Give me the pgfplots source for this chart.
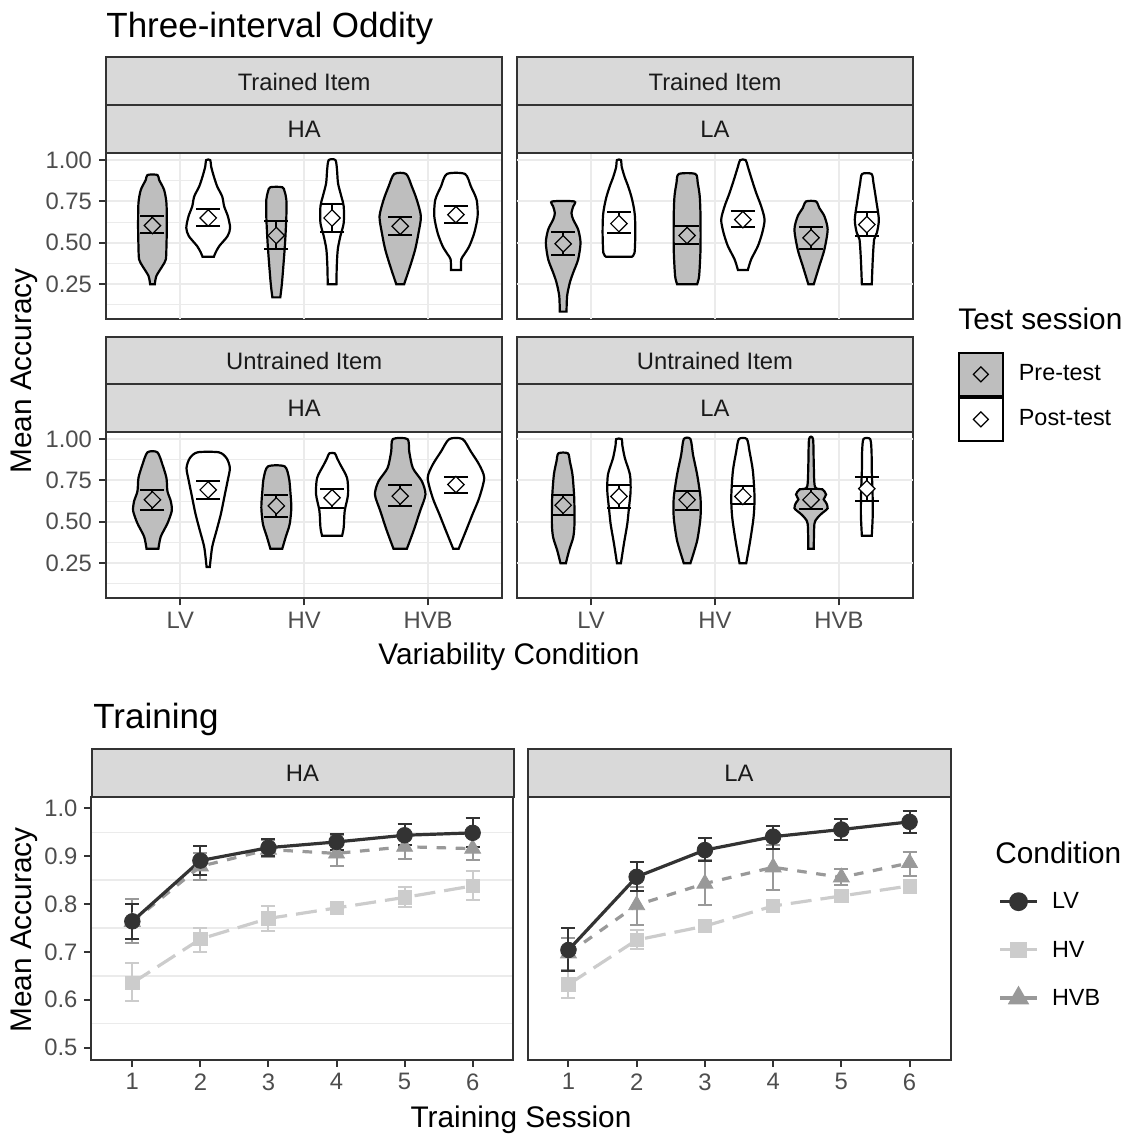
\documentclass[border=0pt]{standalone}
\usepackage{pgfplots}
\pgfplotsset{compat=1.18}
\usepackage{pgfplotstable}
\usepackage{fontspec}
\setmainfont{Liberation Sans}
\definecolor{gridgray}{HTML}{EBEBEB}
\definecolor{border}{HTML}{333333}
\definecolor{stripgray}{HTML}{D9D9D9}
\definecolor{ticklab}{HTML}{4D4D4D}
\definecolor{striptext}{HTML}{1A1A1A}
\definecolor{pregray}{HTML}{BEBEBE}
\definecolor{lvcol}{HTML}{333333}
\definecolor{hvcol}{HTML}{CCCCCC}
\definecolor{hvbcol}{HTML}{999999}
\newcommand\fTitle{\fontsize{17.5}{21}\selectfont}
\newcommand\fAxis{\fontsize{14.9}{17.9}\selectfont}
\newcommand\fTick{\fontsize{11.9}{14.3}\selectfont}
\newcommand\fLeg{\fontsize{11.7}{14}\selectfont}
\newcommand\fLegT{\fontsize{14.9}{17.9}\selectfont}

\newcommand\violin[3]{%
  \gdef\vR{}\gdef\vL{}%
  \foreach \yy/\ww in {#3}{%
    \pgfmathsetmacro\xr{#1+\ww}%
    \pgfmathsetmacro\xl{#1-\ww}%
    \xdef\vR{\vR (\xr,\yy)}%
    \xdef\vL{(\xl,\yy)\vL}%
  }%
  \edef\vtmp{\noexpand\addplot[violin,fill=#2] coordinates {\vR\vL} -- cycle;}%
  \vtmp
}

\pgfplotsset{
  violin/.style={forget plot, smooth, tension=0.45, draw=black, line width=1.1pt},
  vmean/.style={forget plot, only marks, mark=square*, mark size=2.9pt,
    mark options={rotate=45, draw=black, line width=0.6pt, fill=#1},
    error bars/.cd, y dir=both, y explicit,
    error bar style={black, line width=1pt},
    error mark options={rotate=90, black, line width=1pt, mark size=6pt}},
  vax/.style={scale only axis, width=198.2pt, height=83.4pt,
    xmin=0.4, xmax=3.6, ymin=0.0375, ymax=1.0458,
    xtick={1,2,3}, ytick={0.25,0.5,0.75,1}, minor ytick={0.125,0.375,0.625,0.875},
    xmajorgrids, ymajorgrids, yminorgrids,
    major grid style={draw=gridgray, line width=1pt},
    minor grid style={draw=gridgray, line width=0.5pt},
    axis line style={draw=border, line width=1pt},
    tick align=outside, major tick length=3.5pt, minor tick length=0pt,
    tick style={draw=border, line width=1pt},
    xtick pos=left, ytick pos=left,
    tick label style={font=\fTick, text=ticklab},
    xticklabels={}, yticklabels={}},
  notopx/.style={xtick=\empty, extra x ticks={1,2,3}, extra x tick labels={},
    extra x tick style={grid=major, major tick length=0pt}},
  norighty/.style={ytick=\empty, extra y ticks={0.25,0.5,0.75,1}, extra y tick labels={},
    extra y tick style={grid=major, major tick length=0pt}},
  tax/.style={scale only axis, width=211pt, height=131.5pt,
    xmin=0.4, xmax=6.6, ymin=0.475, ymax=1.025,
    xtick={1,2,3,4,5,6}, xticklabels={1,2,3,4,5,6},
    ytick={0.5,0.6,0.7,0.8,0.9,1.0}, minor ytick={0.55,0.65,0.75,0.85,0.95},
    xmajorgrids, yminorgrids,
    major grid style={draw=white, line width=1pt},
    minor grid style={draw=gridgray, line width=0.7pt},
    axis line style={draw=border, line width=1pt},
    tick align=outside, major tick length=3.5pt, minor tick length=0pt,
    tick style={draw=border, line width=1pt},
    xtick pos=left, ytick pos=left,
    tick label style={font=\fTick, text=ticklab}},
  lvline/.style={forget plot, lvcol, line width=1.6pt, solid, mark=none},
  hvline/.style={forget plot, hvcol, line width=1.6pt, dash pattern=on 10.5pt off 4.5pt, mark=none},
  hvbline/.style={forget plot, hvbcol, line width=1.6pt, dash pattern=on 4.8pt off 4.8pt, mark=none},
  tpts/.style 2 args={forget plot, only marks, #1, mark options={solid, draw=none, fill=#1}, #2,
    error bars/.cd, y dir=both, y explicit,
    error bar style={#1, solid, line width=1pt},
    error mark options={rotate=90, #1, solid, line width=1pt, mark size=3.5pt}},
}

\pgfplotstableread{
s m lo hi
1 0.764 0.728 0.800
2 0.891 0.861 0.921
3 0.918 0.900 0.937
4 0.930 0.914 0.946
5 0.944 0.923 0.967
6 0.949 0.920 0.980
}\haLV
\pgfplotstableread{
s m lo hi
1 0.635 0.598 0.676
2 0.727 0.700 0.751
3 0.770 0.744 0.796
4 0.792 0.780 0.800
5 0.814 0.793 0.835
6 0.838 0.808 0.869
}\haHV
\pgfplotstableread{
s m lo hi
1 0.763 0.718 0.810
2 0.879 0.850 0.906
3 0.914 0.899 0.934
4 0.906 0.879 0.944
5 0.920 0.895 0.941
6 0.916 0.893 0.941
}\haHVB
\pgfplotstableread{
s m lo hi
1 0.704 0.660 0.750
2 0.857 0.828 0.888
3 0.913 0.891 0.939
4 0.941 0.916 0.964
5 0.956 0.935 0.977
6 0.972 0.949 0.995
}\laLV
\pgfplotstableread{
s m lo hi
1 0.632 0.603 0.660
2 0.725 0.707 0.745
3 0.754 0.742 0.765
4 0.796 0.786 0.805
5 0.817 0.805 0.829
6 0.838 0.824 0.851
}\laHV
\pgfplotstableread{
s m lo hi
1 0.697 0.662 0.730
2 0.798 0.757 0.836
3 0.843 0.798 0.892
4 0.877 0.829 0.923
5 0.856 0.840 0.874
6 0.886 0.858 0.909
}\laHVB

\begin{document}
\begin{tikzpicture}
\path[use as bounding box] (0pt,0pt) rectangle (567pt,-567.5pt);

% ---------- Trained Item / HA ----------
\begin{axis}[vax, notopx, at={(53pt,-159.65pt)}, anchor=south west,
  yticklabels={0.25,0.50,0.75,1.00}]
\violin{0.775}{pregray}{0.25/0.019, 0.30/0.032, 0.36/0.081, 0.40/0.108, 0.48/0.113, 0.60/0.116, 0.74/0.113, 0.82/0.094, 0.88/0.054, 0.91/0.040}
\violin{1.225}{white}{0.416/0.046, 0.44/0.059, 0.48/0.089, 0.54/0.156, 0.59/0.177, 0.66/0.159, 0.72/0.129, 0.78/0.113, 0.84/0.073, 0.90/0.046, 0.96/0.024, 1.0/0.016}
\violin{1.775}{pregray}{0.17/0.032, 0.26/0.046, 0.46/0.067, 0.56/0.075, 0.66/0.081, 0.76/0.081, 0.81/0.067, 0.836/0.048}
\violin{2.225}{white}{0.25/0.035, 0.36/0.038, 0.46/0.046, 0.54/0.067, 0.62/0.094, 0.72/0.094, 0.78/0.075, 0.86/0.048, 0.94/0.040, 1.0/0.027}
\violin{2.775}{pregray}{0.25/0.032, 0.36/0.081, 0.46/0.121, 0.56/0.148, 0.66/0.167, 0.76/0.134, 0.84/0.094, 0.916/0.048}
\violin{3.225}{white}{0.336/0.040, 0.40/0.043, 0.43/0.067, 0.48/0.108, 0.56/0.148, 0.66/0.175, 0.76/0.167, 0.84/0.121, 0.916/0.073}
\addplot[vmean=pregray] table[x=x, y=m, y error plus expr=\thisrow{hi}-\thisrow{m}, y error minus expr=\thisrow{m}-\thisrow{lo}, row sep=\\] {x m lo hi\\ 0.775 0.604 0.56 0.66\\ 1.775 0.544 0.46 0.63\\ 2.775 0.60 0.55 0.654\\};
\addplot[vmean=white] table[x=x, y=m, y error plus expr=\thisrow{hi}-\thisrow{m}, y error minus expr=\thisrow{m}-\thisrow{lo}, row sep=\\] {x m lo hi\\ 1.225 0.65 0.60 0.704\\ 2.225 0.65 0.564 0.734\\ 3.225 0.67 0.62 0.72\\};
\end{axis}

% ---------- Trained Item / LA ----------
\begin{axis}[vax, notopx, norighty, at={(258.35pt,-159.65pt)}, anchor=south west, width=198.3pt,
  legend style={at={(1.1114,-0.193)}, anchor=north west, draw=none, fill=none, inner sep=0pt,
    row sep=0pt, font=\fLeg, nodes={inner sep=0pt, text=black}},
  legend cell align=left,
  legend image code/.code={\path[draw=none, fill=none] (0pt,0pt) -- (30pt,0pt);
    \draw[#1] (0pt,-10.75pt) rectangle (22pt,10.75pt);
    \draw[black, line width=0.6pt, fill=none] (11pt,3.75pt) -- (14.75pt,0pt) -- (11pt,-3.75pt) -- (7.25pt,0pt) -- cycle;}]
\violin{0.775}{pregray}{0.084/0.027, 0.18/0.032, 0.26/0.054, 0.32/0.081, 0.40/0.121, 0.50/0.140, 0.58/0.121, 0.64/0.081, 0.68/0.067, 0.72/0.081, 0.75/0.089}
\violin{1.225}{white}{0.416/0.105, 0.44/0.126, 0.56/0.132, 0.66/0.129, 0.72/0.118, 0.78/0.100, 0.84/0.075, 0.90/0.045, 0.96/0.022, 1.0/0.016}
\violin{1.775}{pregray}{0.25/0.081, 0.30/0.097, 0.46/0.108, 0.66/0.108, 0.78/0.102, 0.86/0.086, 0.916/0.067}
\violin{2.225}{white}{0.336/0.040, 0.40/0.067, 0.48/0.121, 0.56/0.156, 0.64/0.175, 0.72/0.148, 0.80/0.108, 0.88/0.073, 0.96/0.040, 1.0/0.022}
\violin{2.775}{pregray}{0.25/0.022, 0.36/0.067, 0.46/0.108, 0.58/0.134, 0.66/0.108, 0.71/0.067, 0.75/0.040}
\violin{3.225}{white}{0.25/0.040, 0.40/0.048, 0.52/0.059, 0.56/0.081, 0.64/0.097, 0.76/0.075, 0.86/0.054, 0.916/0.038}
\addplot[vmean=pregray] table[x=x, y=m, y error plus expr=\thisrow{hi}-\thisrow{m}, y error minus expr=\thisrow{m}-\thisrow{lo}, row sep=\\] {x m lo hi\\ 0.775 0.494 0.424 0.564\\ 1.775 0.544 0.49 0.604\\ 2.775 0.53 0.464 0.596\\};
\addplot[vmean=white] table[x=x, y=m, y error plus expr=\thisrow{hi}-\thisrow{m}, y error minus expr=\thisrow{m}-\thisrow{lo}, row sep=\\] {x m lo hi\\ 1.225 0.616 0.56 0.686\\ 2.225 0.64 0.594 0.69\\ 3.225 0.61 0.544 0.684\\};
\addlegendimage{fill=pregray, draw=black, line width=1pt}
\addlegendentry{Pre-test}
\addlegendimage{fill=white, draw=black, line width=1pt}
\addlegendentry{Post-test}
\end{axis}

% ---------- Untrained Item / HA ----------
\begin{axis}[vax, at={(53pt,-299.15pt)}, anchor=south west,
  xticklabels={LV,HV,HVB}, yticklabels={0.25,0.50,0.75,1.00}]
\violin{0.775}{pregray}{0.337/0.048, 0.41/0.067, 0.49/0.121, 0.566/0.156, 0.625/0.148, 0.685/0.121, 0.765/0.113, 0.845/0.081, 0.92/0.040}
\violin{1.225}{white}{0.227/0.013, 0.347/0.032, 0.446/0.067, 0.546/0.102, 0.645/0.129, 0.745/0.156, 0.825/0.175, 0.885/0.148, 0.92/0.086}
\violin{1.775}{pregray}{0.337/0.048, 0.406/0.075, 0.486/0.108, 0.586/0.121, 0.685/0.113, 0.765/0.102, 0.835/0.067}
\violin{2.225}{white}{0.416/0.081, 0.466/0.094, 0.566/0.102, 0.665/0.129, 0.765/0.121, 0.845/0.067, 0.885/0.040, 0.914/0.022}
\violin{2.775}{pregray}{0.337/0.054, 0.446/0.108, 0.566/0.161, 0.665/0.204, 0.745/0.175, 0.825/0.102, 0.924/0.073, 1.0/0.059}
\violin{3.225}{white}{0.337/0.022, 0.446/0.081, 0.546/0.134, 0.645/0.188, 0.765/0.228, 0.845/0.188, 0.924/0.121, 1.0/0.054}
\addplot[vmean=pregray] table[x=x, y=m, y error plus expr=\thisrow{hi}-\thisrow{m}, y error minus expr=\thisrow{m}-\thisrow{lo}, row sep=\\] {x m lo hi\\ 0.775 0.633 0.574 0.693\\ 1.775 0.596 0.53 0.665\\ 2.775 0.655 0.594 0.72\\};
\addplot[vmean=white] table[x=x, y=m, y error plus expr=\thisrow{hi}-\thisrow{m}, y error minus expr=\thisrow{m}-\thisrow{lo}, row sep=\\] {x m lo hi\\ 1.225 0.693 0.635 0.745\\ 2.225 0.645 0.586 0.70\\ 3.225 0.725 0.673 0.773\\};
\end{axis}

% ---------- Untrained Item / LA ----------
\begin{axis}[vax, norighty, at={(258.35pt,-299.15pt)}, anchor=south west, width=198.3pt,
  xticklabels={LV,HV,HVB}]
\violin{0.775}{pregray}{0.25/0.022, 0.327/0.048, 0.406/0.081, 0.486/0.091, 0.645/0.089, 0.785/0.075, 0.865/0.054, 0.914/0.038}
\violin{1.225}{white}{0.25/0.016, 0.367/0.040, 0.486/0.067, 0.586/0.081, 0.685/0.094, 0.785/0.089, 0.884/0.048, 0.964/0.027, 1.0/0.022}
\violin{1.775}{pregray}{0.25/0.027, 0.386/0.081, 0.526/0.108, 0.645/0.108, 0.785/0.081, 0.904/0.048, 1.0/0.027}
\violin{2.225}{white}{0.25/0.027, 0.386/0.059, 0.526/0.086, 0.645/0.094, 0.805/0.081, 0.924/0.054, 1.0/0.032}
\violin{2.775}{pregray}{0.337/0.022, 0.486/0.027, 0.526/0.054, 0.55/0.086, 0.582/0.134, 0.616/0.121, 0.636/0.102, 0.665/0.121, 0.695/0.094, 0.711/0.032, 0.845/0.022, 1.0/0.016}
\violin{3.225}{white}{0.416/0.040, 0.546/0.048, 0.685/0.046, 0.805/0.040, 0.924/0.038, 1.0/0.027}
\addplot[vmean=pregray] table[x=x, y=m, y error plus expr=\thisrow{hi}-\thisrow{m}, y error minus expr=\thisrow{m}-\thisrow{lo}, row sep=\\] {x m lo hi\\ 0.775 0.60 0.542 0.665\\ 1.775 0.633 0.574 0.685\\ 2.775 0.633 0.58 0.70\\};
\addplot[vmean=white] table[x=x, y=m, y error plus expr=\thisrow{hi}-\thisrow{m}, y error minus expr=\thisrow{m}-\thisrow{lo}, row sep=\\] {x m lo hi\\ 1.225 0.653 0.586 0.725\\ 2.225 0.653 0.605 0.715\\ 3.225 0.70 0.625 0.77\\};
\end{axis}

% ---------- Training HA ----------
\begin{axis}[tax, at={(45.75pt,-529.75pt)}, anchor=south west,
  yticklabels={0.5,0.6,0.7,0.8,0.9,1.0}]
\addplot[hvbline] table[x=s,y=m]{\haHVB};
\addplot[hvline] table[x=s,y=m]{\haHV};
\addplot[lvline] table[x=s,y=m]{\haLV};
\addplot[tpts={hvbcol}{mark=triangle*, mark size=4.6pt}] table[x=s, y=m, y error plus expr=\thisrow{hi}-\thisrow{m}, y error minus expr=\thisrow{m}-\thisrow{lo}] {\haHVB};
\addplot[tpts={hvcol}{mark=square*, mark size=3.3pt}] table[x=s, y=m, y error plus expr=\thisrow{hi}-\thisrow{m}, y error minus expr=\thisrow{m}-\thisrow{lo}] {\haHV};
\addplot[tpts={lvcol}{mark=*, mark size=3.9pt}] table[x=s, y=m, y error plus expr=\thisrow{hi}-\thisrow{m}, y error minus expr=\thisrow{m}-\thisrow{lo}] {\haLV};
\end{axis}

% ---------- Training LA ----------
\begin{axis}[tax, at={(263.75pt,-529.75pt)}, anchor=south west, width=211.5pt,
  ytick=\empty,
  legend style={at={(1.1123,0.637)}, anchor=north west, draw=none, fill=none, inner sep=0pt,
    row sep=14.8pt, font=\fLeg, nodes={inner sep=0pt, text height=8.3pt, text depth=1pt, text=black}},
  legend cell align=left,
  legend image code/.code={\path[draw=none, fill=none] (0pt,0pt) -- (26pt,0pt);
    \draw[#1, mark=none] (0pt,0pt) -- (18.5pt,0pt);
    \draw[#1] plot coordinates {(9.25pt,0pt)};}]
\addplot[hvbline] table[x=s,y=m]{\laHVB};
\addplot[hvline] table[x=s,y=m]{\laHV};
\addplot[lvline] table[x=s,y=m]{\laLV};
\addplot[tpts={hvbcol}{mark=triangle*, mark size=4.6pt}] table[x=s, y=m, y error plus expr=\thisrow{hi}-\thisrow{m}, y error minus expr=\thisrow{m}-\thisrow{lo}] {\laHVB};
\addplot[tpts={hvcol}{mark=square*, mark size=3.3pt}] table[x=s, y=m, y error plus expr=\thisrow{hi}-\thisrow{m}, y error minus expr=\thisrow{m}-\thisrow{lo}] {\laHV};
\addplot[tpts={lvcol}{mark=*, mark size=3.9pt}] table[x=s, y=m, y error plus expr=\thisrow{hi}-\thisrow{m}, y error minus expr=\thisrow{m}-\thisrow{lo}] {\laLV};
\addlegendimage{lvcol, line width=1.6pt, solid, mark=*, mark size=3.9pt, mark options={solid, draw=none, fill=lvcol}}
\addlegendentry{LV}
\addlegendimage{hvcol, line width=1.6pt, solid, mark=square*, mark size=3.3pt, mark options={solid, draw=none, fill=hvcol}}
\addlegendentry{HV}
\addlegendimage{hvbcol, line width=1.6pt, solid, mark=triangle*, mark size=4.6pt, mark options={solid, draw=none, fill=hvbcol}}
\addlegendentry{HVB}
\end{axis}

% ---------- strips, titles, labels ----------
\begin{scope}[x=0.5pt, y=-0.5pt]
\tikzset{strip/.style={fill=stripgray, draw=border, line width=1pt},
  stxt/.style={font=\fTick, text=striptext, inner sep=0pt}}
\draw[strip] (106,57.3) rectangle (502.3,105);
\draw[strip] (106,105) rectangle (502.3,152.5);
\draw[strip] (516.7,57.3) rectangle (913.3,105);
\draw[strip] (516.7,105) rectangle (913.3,152.5);
\node[stxt] at (304.15,81.5) {Trained Item};
\node[stxt] at (304.15,129) {HA};
\node[stxt] at (715,81.5) {Trained Item};
\node[stxt] at (715,129) {LA};
\draw[strip] (106,336.5) rectangle (502.3,384);
\draw[strip] (106,384) rectangle (502.3,431.5);
\draw[strip] (516.7,336.5) rectangle (913.3,384);
\draw[strip] (516.7,384) rectangle (913.3,431.5);
\node[stxt] at (304.15,360.5) {Untrained Item};
\node[stxt] at (304.15,408) {HA};
\node[stxt] at (715,360.5) {Untrained Item};
\node[stxt] at (715,408) {LA};
\draw[strip] (91.5,749) rectangle (513.5,796.5);
\draw[strip] (527.5,749) rectangle (950.5,796.5);
\node[stxt] at (302.5,773) {HA};
\node[stxt] at (739,773) {LA};
\node[anchor=base west, font=\fTitle, inner sep=0pt] at (106,37) {Three-interval Oddity};
\node[anchor=base west, font=\fTitle, inner sep=0pt] at (93,728) {Training};
\node[rotate=90, font=\fAxis, inner sep=0pt] at (24,371) {Mean Accuracy};
\node[rotate=90, font=\fAxis, inner sep=0pt] at (24,930) {Mean Accuracy};
\node[anchor=base, font=\fAxis, inner sep=0pt] at (509,664) {Variability Condition};
\node[anchor=base, font=\fAxis, inner sep=0pt] at (521,1127) {Training Session};
\node[anchor=base west, font=\fLegT, inner sep=0pt] at (958,329) {Test session};
\node[anchor=base west, font=\fLegT, inner sep=0pt] at (995,863) {Condition};
\end{scope}
\end{tikzpicture}
\end{document}
